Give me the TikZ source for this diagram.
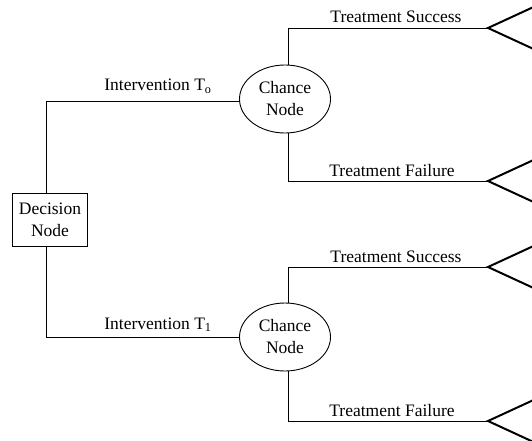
\documentclass[tikz,border=0pt]{standalone}
\usepackage{fontspec}
\setmainfont{Liberation Serif}
\usetikzlibrary{shapes.geometric}
\begin{document}
\begin{tikzpicture}[x=1pt,y=-1pt,
  txt/.style={font=\fontsize{17.5}{22}\selectfont},
  conn/.style={line width=0.9pt},
  box/.style={draw, line width=0.9pt, minimum width=75pt, minimum height=53pt,
    inner sep=0pt, align=center, txt},
  chance/.style={draw, ellipse, line width=0.9pt, minimum width=91pt,
    minimum height=68pt, inner sep=0pt, align=center, txt},
  outcome/.style={line width=2pt, line join=miter},
  lbl/.style={txt, anchor=base, inner sep=0pt}]
\clip (0,0) rectangle (532,441);

% decision and chance nodes
\node[box] (dec) at (50,220) {Decision\\Node};
\node[chance] (c1) at (285,99) {Chance\\Node};
\node[chance] (c2) at (285,337) {Chance\\Node};

% end points of the outcome branches (tips of the terminal triangles)
\coordinate (s1) at (488,28);
\coordinate (f1) at (488,181);
\coordinate (s2) at (488,267);
\coordinate (f2) at (488,421);

% decision branches
\draw[conn] ([xshift=-4pt]dec.north) |- ([yshift=-2pt]c1.west);
\draw[conn] ([xshift=-4pt]dec.south) |- (c2.west);

% chance branches
\draw[conn] (c1.84) |- (s1);
\draw[conn] (c1.-84) |- (f1);
\draw[conn] (c2.84) |- (s2);
\draw[conn] (c2.-84) |- (f2);

% terminal triangles
\foreach \t in {s1,f1,s2,f2}{
  \draw[outcome] ([shift={(52pt,-24pt)}]\t) -- (\t) -- ([shift={(52pt,24pt)}]\t);
}

% branch labels
\node[lbl] (l1) at (158,91) {Intervention T\textsubscript{o}};
\node[lbl] (l2) at (158,329) {Intervention T\textsubscript{1}};
\node[lbl] (l3) at (396,23) {Treatment Success};
\node[lbl] (l4) at (392,176) {Treatment Failure};
\node[lbl] (l5) at (396,262) {Treatment Success};
\node[lbl] (l6) at (392,416) {Treatment Failure};
\end{tikzpicture}
\end{document}
